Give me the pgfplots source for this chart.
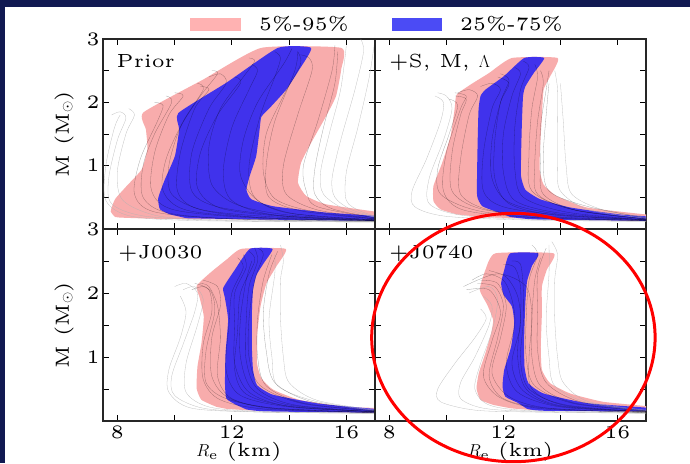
\documentclass[border=0pt]{standalone}
\usepackage{pgfplots}
\pgfplotsset{compat=1.18}
\usepackage{fontspec}
\setmainfont{lmroman5-regular.otf}[BoldFont=lmroman5-bold.otf, ItalicFont=lmroman7-italic.otf]
\definecolor{navy}{RGB}{17,25,82}
\definecolor{pinkband}{RGB}{248,172,172}
\definecolor{blueband}{RGB}{64,50,236}
\definecolor{pinkleg}{RGB}{255,178,178}
\definecolor{blueleg}{RGB}{75,75,245}
\newcommand{\fs}{\fontsize{19}{22}\selectfont}
\pgfplotsset{
  panel/.style={scale only axis, anchor=south west,
    xmin=7.5, xmax=17, ymin=0, ymax=3,
    xtick={8,10,12,14,16}, ytick={0.5,1,1.5,2,2.5,3},
    tick align=inside, major tick length=6pt,
    tick style={line width=0.9pt, black},
    axis line style={line width=1.2pt, black!85},
    tick label style={font=\fs},
    xticklabel style={yshift=-1pt},
    /pgf/number format/assume math mode=true},
  pk/.style={fill=pinkband, draw=none, smooth, tension=0.3},
  bb/.style={fill=blueband, draw=none, smooth, tension=0.3},
  gl/.style={no markers, smooth, gray!60, line width=0.3pt, opacity=0.8},
  bl/.style={no markers, smooth, black, line width=0.3pt, opacity=0.35},
}
\begin{document}
\begin{tikzpicture}[x=1pt,y=1pt]
\useasboundingbox (0,0) rectangle (690,463);
\fill[navy] (0,0) rectangle (690,463);
\fill[white] (5,0) rectangle (690,456);

% ---------------- Prior ----------------
\begin{axis}[panel, at={(103pt,234pt)}, width=272pt, height=190pt,
  xticklabels={}, yticklabels={,1,,2,,3}]
\addplot[pk] coordinates {(7.92,0.19)(7.77,0.28)(7.92,0.47)(8.33,0.68)(8.85,0.94)(9.05,1.26)(9.00,1.57)(8.91,1.84)(11.0,2.36)(13.03,2.86)(15.82,2.86)(15.82,2.52)(15.64,2.10)(15.29,1.78)(14.83,1.41)(14.42,1.05)(14.31,0.73)(14.60,0.52)(15.29,0.39)(16.92,0.28)(17.2,0.27)(17.2,0.13)(16.92,0.14)(12.97,0.15)(9.49,0.16)(8.09,0.18)} -- cycle;
\addplot[bb] coordinates {(9.84,0.23)(9.49,0.31)(9.43,0.49)(9.66,0.78)(10.01,1.15)(10.16,1.57)(10.13,1.83)(11.81,2.31)(13.61,2.86)(14.77,2.86)(14.36,2.52)(13.90,2.20)(13.32,1.91)(13.03,1.77)(12.97,1.57)(12.85,1.15)(12.62,0.83)(12.51,0.62)(12.68,0.47)(13.44,0.36)(15.29,0.26)(17.2,0.20)(17.2,0.13)(12.97,0.15)(10.42,0.17)} -- cycle;
\addplot[gl] coordinates {(17.2,0.11)(12,0.13)(9,0.2)(7.8,0.4)(7.7,0.8)(8.0,1.4)(8.3,1.75)(8.1,1.85)(7.8,1.8)};
\addplot[gl] coordinates {(17.2,0.12)(12,0.14)(9.5,0.2)(8.2,0.45)(8.0,0.9)(8.3,1.5)(8.6,1.8)(8.4,1.9)};
\addplot[gl] coordinates {(17.2,0.11)(11,0.13)(8.5,0.2)(7.6,0.45)(7.6,1.0)(7.9,1.6)(8.1,1.8)};
\addplot[gl] coordinates {(17.2,0.17)(16.2,0.3)(15.6,0.5)(15.5,0.8)(15.8,1.4)(16.3,2.2)(16.6,2.8)(16.5,3.0)};
\addplot[gl] coordinates {(17.2,0.18)(16.5,0.28)(16.0,0.45)(16.0,0.9)(16.4,1.6)(16.8,2.4)(17.0,3.0)};
\addplot[gl] coordinates {(17.2,0.17)(16.0,0.3)(15.2,0.55)(15.1,0.9)(15.4,1.5)(15.8,2.2)(16.0,2.9)};
\addplot[bl] coordinates {(17.2,0.13)(14,0.2)(11.5,0.35)(10.6,0.6)(10.6,1.2)(11.2,1.9)(11.8,2.3)(11.6,2.45)(11.2,2.4)};
\addplot[bl] coordinates {(17.2,0.14)(14,0.25)(12.8,0.5)(12.6,1.0)(13.0,1.8)(13.5,2.4)(13.7,2.7)(13.5,2.8)};
\addplot[bl] coordinates {(17.2,0.15)(15,0.3)(13.9,0.55)(13.8,1.0)(14.3,1.8)(14.8,2.5)(14.7,2.7)(14.4,2.75)};
\addplot[bl] coordinates {(17.2,0.13)(13,0.17)(10,0.3)(9.2,0.6)(9.3,1.2)(9.8,1.8)(10.3,2.1)(10.0,2.15)};
\addplot[bl] coordinates {(17.2,0.12)(12,0.16)(9.3,0.27)(8.6,0.55)(8.8,1.1)(9.4,1.7)(9.6,1.95)(9.3,2.0)};
\addplot[bl] coordinates {(17.2,0.16)(15,0.35)(14.6,0.6)(14.5,1.0)(15.0,1.7)(15.5,2.5)(15.6,2.9)};
\addplot[bl] coordinates {(17.2,0.14)(13.5,0.22)(12,0.45)(11.7,0.9)(12.0,1.6)(12.6,2.2)(12.9,2.5)(12.7,2.6)};
\addplot[bl] coordinates {(17.2,0.13)(13,0.18)(10.8,0.32)(10.1,0.6)(10.2,1.2)(10.7,1.9)(11.2,2.2)(10.9,2.25)};
\addplot[bl] coordinates {(17.2,0.15)(14.5,0.28)(13.3,0.5)(13.2,1.0)(13.5,1.7)(14.2,2.5)(14.3,2.8)};
\addplot[bl] coordinates {(17.2,0.13)(13.5,0.19)(11.0,0.3)(9.9,0.55)(9.8,1.0)(10.2,1.6)(10.9,2.1)(11.5,2.45)(11.3,2.5)};
\addplot[bl] coordinates {(17.2,0.14)(14,0.22)(12.2,0.38)(11.3,0.7)(11.2,1.3)(11.6,1.9)(12.4,2.4)(12.8,2.65)(12.6,2.7)};
\addplot[bl] coordinates {(17.2,0.15)(14.8,0.28)(13.5,0.48)(13.1,0.9)(13.2,1.5)(13.8,2.1)(14.4,2.6)(14.3,2.8)};
\addplot[bl] coordinates {(17.2,0.14)(14.2,0.24)(12.9,0.45)(12.3,0.85)(12.4,1.4)(12.9,2.0)(13.8,2.6)(14.1,2.85)};
\addplot[bl] coordinates {(17.2,0.13)(13,0.18)(10.4,0.3)(9.6,0.6)(9.7,1.1)(10.3,1.7)(11.0,2.2)(10.8,2.3)};
\addplot[bl] coordinates {(17.2,0.12)(12.5,0.15)(9.8,0.25)(8.9,0.5)(8.9,1.0)(9.3,1.5)(9.9,2.0)(9.7,2.1)};
\addplot[bl] coordinates {(17.2,0.16)(15.5,0.32)(14.9,0.55)(14.9,0.95)(15.2,1.6)(15.6,2.3)(15.7,2.8)};
\addplot[bl] coordinates {(17.2,0.13)(13.8,0.2)(11.6,0.33)(10.8,0.65)(10.9,1.2)(11.5,1.8)(12.3,2.3)(12.1,2.4)};
\end{axis}

% ---------------- +S, M, Lambda ----------------
\begin{axis}[panel, at={(375pt,234pt)}, width=271pt, height=190pt,
  xticklabels={}, yticklabels={}]
\addplot[pk] coordinates {(10.38,0.23)(9.80,0.31)(9.55,0.44)(9.55,0.68)(9.86,1.05)(10.15,1.47)(10.29,1.89)(10.36,2.12)(10.85,2.28)(11.49,2.46)(12.30,2.70)(13.90,2.70)(13.64,2.41)(13.41,2.20)(13.35,1.78)(13.29,1.31)(13.27,0.94)(13.41,0.70)(13.87,0.52)(14.92,0.34)(16.99,0.23)(17.24,0.23)(17.24,0.13)(13.17,0.16)(11.20,0.19)} -- cycle;
\addplot[bb] coordinates {(11.78,0.27)(11.26,0.36)(11.08,0.52)(11.08,0.94)(11.10,1.41)(11.13,1.89)(11.20,2.10)(11.37,2.20)(12.01,2.41)(12.73,2.70)(13.43,2.70)(13.06,2.46)(12.77,2.25)(12.69,2.10)(12.65,1.68)(12.62,1.15)(12.62,0.83)(12.77,0.62)(13.29,0.47)(14.34,0.34)(16.08,0.23)(17.24,0.19)(17.24,0.13)(13.17,0.15)(12.24,0.19)} -- cycle;
\addplot[gl] coordinates {(17.2,0.12)(13,0.14)(10,0.2)(8.9,0.35)(8.8,0.6)(9.3,1.1)(9.8,1.7)(9.9,2.0)(9.6,2.1)};
\addplot[gl] coordinates {(17.2,0.12)(13,0.15)(10.5,0.22)(9.4,0.4)(9.4,0.8)(9.9,1.4)(10.2,1.9)(10.0,2.1)(9.7,2.15)};
\addplot[gl] coordinates {(17.2,0.16)(15,0.3)(14.0,0.6)(13.9,1.0)(13.9,1.6)(13.9,2.2)(13.8,2.5)};
\addplot[gl] coordinates {(17.2,0.17)(15.5,0.3)(14.4,0.55)(14.2,1.0)(14.1,1.7)(14.0,2.3)};
\addplot[bl] coordinates {(17.2,0.14)(14,0.22)(12,0.35)(11.3,0.6)(11.3,1.2)(11.6,1.9)(11.9,2.2)(11.6,2.3)(11.2,2.25)};
\addplot[bl] coordinates {(17.2,0.15)(14.5,0.3)(13.0,0.6)(12.9,1.2)(13.0,1.9)(13.2,2.4)(13.1,2.6)};
\addplot[bl] coordinates {(17.2,0.13)(13.5,0.2)(11.5,0.3)(10.5,0.55)(10.5,1.1)(10.8,1.8)(11.1,2.1)(10.8,2.2)(10.4,2.15)};
\addplot[bl] coordinates {(17.2,0.14)(14,0.25)(12.4,0.45)(12.0,0.9)(12.0,1.5)(12.3,2.1)(12.6,2.45)(12.4,2.55)};
\addplot[bl] coordinates {(17.2,0.16)(15,0.35)(13.6,0.6)(13.4,1.1)(13.5,1.8)(13.6,2.3)};
\addplot[bl] coordinates {(17.2,0.13)(13,0.18)(10.6,0.3)(9.9,0.6)(10.0,1.2)(10.5,1.9)(10.7,2.1)(10.3,2.15)};
\addplot[bl] coordinates {(17.2,0.14)(13.8,0.22)(12.2,0.4)(11.7,0.8)(11.7,1.4)(11.9,2.0)(12.2,2.35)(11.9,2.45)};
\addplot[bl] coordinates {(17.2,0.13)(13.5,0.19)(11.2,0.32)(10.2,0.6)(10.2,1.2)(10.5,1.8)(10.7,2.05)(10.3,2.1)};
\addplot[bl] coordinates {(17.2,0.14)(14,0.23)(12.2,0.42)(11.6,0.8)(11.6,1.4)(11.9,2.0)(12.2,2.3)(11.8,2.4)};
\addplot[bl] coordinates {(17.2,0.15)(14.5,0.3)(13.2,0.55)(13.1,1.0)(13.2,1.7)(13.4,2.3)(13.3,2.5)};
\addplot[bl] coordinates {(17.2,0.14)(14.3,0.26)(12.7,0.5)(12.4,0.95)(12.4,1.6)(12.6,2.2)(12.9,2.55)(12.7,2.65)};
\addplot[bl] coordinates {(17.2,0.13)(13.2,0.18)(11.0,0.3)(9.8,0.55)(9.7,0.95)(10.1,1.5)(10.4,1.95)(10.1,2.05)};
\addplot[bl] coordinates {(17.2,0.15)(14.6,0.29)(13.4,0.55)(13.3,1.0)(13.3,1.6)(13.5,2.2)(13.6,2.5)};
\end{axis}

% ---------------- +J0030 ----------------
\begin{axis}[panel, at={(103pt,42pt)}, width=272pt, height=192pt,
  xticklabels={8,,12,,16}, yticklabels={,1,,2,,3}]
\addplot[pk] coordinates {(11.47,0.22)(10.94,0.33)(10.77,0.51)(10.80,0.85)(10.94,1.22)(11.02,1.63)(10.88,1.92)(10.77,2.11)(11.23,2.31)(11.81,2.52)(12.34,2.69)(13.88,2.69)(13.56,2.42)(13.21,2.15)(13.00,1.79)(12.88,1.32)(12.88,0.90)(13.03,0.67)(13.44,0.49)(14.37,0.33)(16.00,0.22)(17.16,0.20)(17.16,0.13)(12.98,0.16)(11.81,0.19)} -- cycle;
\addplot[bb] coordinates {(12.16,0.25)(11.81,0.35)(11.76,0.59)(11.78,1.06)(11.87,1.58)(11.76,1.92)(11.70,2.08)(12.10,2.36)(12.63,2.69)(13.42,2.69)(13.12,2.47)(12.86,2.28)(12.74,2.05)(12.70,1.68)(12.70,1.16)(12.74,0.80)(12.88,0.56)(13.44,0.41)(15.07,0.27)(17.16,0.18)(17.16,0.13)(13.21,0.15)(12.51,0.18)} -- cycle;
\addplot[gl] coordinates {(17.2,0.12)(13,0.14)(11,0.2)(10.0,0.4)(9.9,0.7)(10.3,1.2)(10.7,1.7)(10.8,2.0)(10.4,2.15)(10.0,2.1)};
\addplot[gl] coordinates {(17.2,0.12)(13,0.15)(11.2,0.22)(10.4,0.45)(10.4,0.9)(10.8,1.5)(11.0,1.9)(10.7,2.1)(10.3,2.05)};
\addplot[gl] coordinates {(17.2,0.12)(13,0.14)(10.6,0.2)(9.8,0.45)(9.8,0.8)(10.2,1.3)(10.4,1.7)(10.2,1.95)};
\addplot[gl] coordinates {(17.2,0.16)(15,0.32)(14.0,0.6)(13.8,1.0)(13.7,1.6)(13.7,2.2)(13.8,2.5)(13.7,2.75)};
\addplot[gl] coordinates {(17.2,0.15)(15,0.3)(13.6,0.55)(13.4,1.0)(13.3,1.6)(13.5,2.3)(13.5,2.6)};
\addplot[bl] coordinates {(17.2,0.14)(14,0.22)(12.3,0.4)(11.8,0.8)(11.9,1.5)(12.0,2.0)(12.4,2.4)(12.2,2.55)};
\addplot[bl] coordinates {(17.2,0.13)(13.5,0.2)(11.8,0.35)(11.1,0.6)(11.1,1.1)(11.4,1.7)(11.3,2.0)(11.0,2.1)(10.6,2.05)};
\addplot[bl] coordinates {(17.2,0.15)(14.5,0.27)(13.0,0.55)(12.6,1.0)(12.6,1.6)(12.8,2.2)(13.1,2.6)(12.9,2.7)};
\addplot[bl] coordinates {(17.2,0.14)(14,0.25)(12.7,0.5)(12.3,1.0)(12.3,1.6)(12.5,2.2)(12.7,2.5)};
\addplot[bl] coordinates {(17.2,0.13)(13.5,0.2)(12,0.35)(11.5,0.7)(11.6,1.3)(11.5,1.8)(11.2,2.1)(10.9,2.15)};
\addplot[bl] coordinates {(17.2,0.14)(14,0.23)(12.5,0.42)(12.1,0.8)(12.2,1.4)(12.3,2.0)(12.8,2.5)(12.6,2.65)};
\addplot[bl] coordinates {(17.2,0.14)(14,0.23)(12.6,0.45)(12.1,0.9)(12.1,1.5)(12.1,2.0)(12.5,2.4)(12.4,2.6)};
\addplot[bl] coordinates {(17.2,0.15)(14.5,0.28)(13.2,0.55)(12.9,1.0)(12.9,1.6)(13.1,2.2)(13.4,2.6)};
\addplot[bl] coordinates {(17.2,0.13)(13.5,0.19)(11.9,0.36)(11.3,0.7)(11.3,1.3)(11.6,1.8)(11.5,2.1)(11.0,2.2)};
\addplot[bl] coordinates {(17.2,0.14)(14.2,0.25)(12.9,0.5)(12.5,0.95)(12.5,1.55)(12.6,2.1)(12.9,2.5)(12.8,2.7)};
\addplot[bl] coordinates {(17.2,0.13)(13.3,0.18)(11.6,0.33)(11.0,0.65)(11.0,1.2)(11.3,1.7)(11.2,2.05)(10.7,2.15)};
\addplot[bl] coordinates {(17.2,0.15)(14.8,0.3)(13.5,0.6)(13.2,1.1)(13.1,1.7)(13.3,2.3)(13.6,2.65)};
\end{axis}

% ---------------- +J0740 ----------------
\begin{axis}[panel, at={(375pt,42pt)}, width=271pt, height=192pt,
  xticklabels={8,,12,,16}, yticklabels={}]
\addplot[pk] coordinates {(11.66,0.25)(11.20,0.33)(11.06,0.51)(11.14,0.75)(11.37,1.06)(11.57,1.37)(11.64,1.58)(11.43,1.82)(11.17,2.05)(11.37,2.36)(11.72,2.62)(13.76,2.62)(13.52,2.36)(13.35,2.10)(13.35,1.68)(13.31,1.16)(13.35,0.80)(13.64,0.59)(14.34,0.43)(15.50,0.30)(17.24,0.22)(17.24,0.15)(13.17,0.17)(12.24,0.20)} -- cycle;
\addplot[bb] coordinates {(12.48,0.29)(12.07,0.38)(11.97,0.54)(12.03,0.80)(12.27,1.16)(12.38,1.53)(12.30,1.79)(12.01,1.97)(11.92,2.15)(12.03,2.36)(12.24,2.62)(13.23,2.62)(13.00,2.42)(12.83,2.18)(12.77,1.84)(12.73,1.32)(12.74,0.85)(12.88,0.59)(13.41,0.43)(14.92,0.28)(17.24,0.20)(17.24,0.15)(13.41,0.16)(12.83,0.19)} -- cycle;
\addplot[gl] coordinates {(17.2,0.12)(13,0.14)(11,0.17)(9.8,0.3)(9.7,0.5)(10.3,0.9)(11.0,1.3)(11.4,1.6)(11.2,1.75)};
\addplot[gl] coordinates {(17.2,0.12)(13,0.15)(11.3,0.2)(10.5,0.35)(10.5,0.6)(11.0,1.0)(11.5,1.5)(11.6,1.8)(11.3,1.95)};
\addplot[gl] coordinates {(17.2,0.13)(13,0.16)(11.5,0.25)(11.0,0.5)(11.2,0.9)(11.6,1.4)(11.8,1.9)(11.5,2.1)(10.8,2.0)};
\addplot[gl] coordinates {(17.2,0.16)(15,0.3)(14.1,0.6)(13.9,1.0)(13.8,1.6)(13.8,2.2)(13.9,2.6)(13.7,2.8)};
\addplot[gl] coordinates {(17.2,0.15)(15,0.28)(13.8,0.55)(13.6,1.0)(13.5,1.6)(13.6,2.3)(13.6,2.75)};
\addplot[bl] coordinates {(17.2,0.14)(14,0.22)(12.5,0.45)(12.1,0.9)(12.4,1.5)(12.3,1.9)(12.0,2.2)(11.4,2.3)(10.9,2.2)};
\addplot[bl] coordinates {(17.2,0.15)(14.5,0.27)(13.1,0.55)(12.8,1.0)(12.8,1.6)(12.9,2.2)(13.2,2.6)(13.0,2.75)};
\addplot[bl] coordinates {(17.2,0.13)(13.5,0.2)(12,0.35)(11.5,0.7)(11.8,1.3)(12.0,1.8)(11.7,2.1)(11.1,2.15)};
\addplot[bl] coordinates {(17.2,0.14)(14,0.24)(12.8,0.5)(12.5,1.0)(12.6,1.6)(12.6,2.1)(12.4,2.4)(12.0,2.45)};
\addplot[bl] coordinates {(17.2,0.14)(14.2,0.24)(13.0,0.5)(12.9,1.0)(13.0,1.6)(12.8,2.1)(11.8,2.3)(10.6,2.1)};
\addplot[bl] coordinates {(17.2,0.14)(14,0.23)(12.7,0.47)(12.3,0.9)(12.6,1.5)(12.5,1.95)(12.1,2.25)(11.5,2.35)};
\addplot[bl] coordinates {(17.2,0.15)(14.5,0.28)(13.3,0.55)(13.0,1.0)(13.0,1.6)(13.1,2.2)(13.3,2.55)};
\addplot[bl] coordinates {(17.2,0.13)(13.6,0.2)(12.2,0.38)(11.6,0.75)(11.9,1.3)(12.1,1.8)(11.8,2.15)(11.2,2.2)};
\addplot[bl] coordinates {(17.2,0.14)(14.2,0.25)(12.9,0.5)(12.6,0.95)(12.7,1.55)(12.7,2.05)(12.6,2.45)(12.3,2.5)};
\addplot[bl] coordinates {(17.2,0.13)(13.4,0.19)(11.9,0.36)(11.3,0.7)(11.6,1.25)(11.9,1.7)(11.5,2.05)(10.7,2.05)};
\addplot[bl] coordinates {(17.2,0.15)(14.7,0.3)(13.5,0.6)(13.2,1.1)(13.2,1.7)(13.2,2.3)(13.5,2.7)};
\end{axis}

% labels
\node[rotate=90, font=\fs] at (64,329) {M (M$_\odot$)};
\node[rotate=90, font=\fs] at (64,138) {M (M$_\odot$)};
\node[font=\fs] at (239,11) {$R_{\mathrm{e}}$ (km)};
\node[font=\fs] at (510.5,11) {$R_{\mathrm{e}}$ (km)};
\node[font=\fs, anchor=base west, inner sep=0] at (116.5,395) {Prior};
\node[font=\fs, anchor=base west, inner sep=0] at (389,395) {+S, M, $\Lambda$};
\node[font=\fs, anchor=base west, inner sep=0] at (118,204) {+J0030};
\node[font=\fs, anchor=base west, inner sep=0] at (389,204) {+J0740};
% legend
\fill[pinkleg] (190,432.3) rectangle (240.7,444.7);
\node[font=\fs, anchor=base west, inner sep=0] at (259,432.3) {5\%-95\%};
\fill[blueleg] (392,432.3) rectangle (441.5,444.7);
\node[font=\fs, anchor=base west, inner sep=0] at (460,432.3) {25\%-75\%};
% annotation
\draw[red, line width=3pt] (513.4,125.5) ellipse [x radius=141.7, y radius=124.2];
\end{tikzpicture}
\end{document}
